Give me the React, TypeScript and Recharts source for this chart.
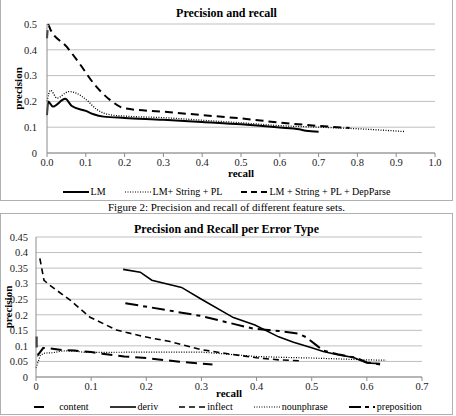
import React from 'react';
import { LineChart, Line, XAxis, YAxis, CartesianGrid, Legend } from 'recharts';

// ---------- Chart 1: Precision and recall ----------
const lmRecall = [0, 0.003, 0.015, 0.047, 0.064, 0.1, 0.12, 0.146, 0.2, 0.3, 0.4, 0.5, 0.6, 0.65, 0.667, 0.7];
const lmPrecision = [0.147, 0.2, 0.18, 0.21, 0.182, 0.163, 0.15, 0.141, 0.136, 0.129, 0.12, 0.111, 0.099, 0.092, 0.086, 0.082];

const plRecall = [0, 0.009, 0.026, 0.056, 0.077, 0.1, 0.129, 0.163, 0.2, 0.3, 0.4, 0.5, 0.6, 0.7, 0.8, 0.923];
const plPrecision = [0.2, 0.243, 0.213, 0.238, 0.231, 0.208, 0.168, 0.148, 0.143, 0.137, 0.127, 0.117, 0.106, 0.1, 0.094, 0.083];

const dpRecall = [0, 0.003, 0.009, 0.05, 0.086, 0.12, 0.163, 0.2, 0.3, 0.4, 0.5, 0.6, 0.7, 0.78];
const dpPrecision = [0.445, 0.497, 0.478, 0.413, 0.342, 0.27, 0.205, 0.173, 0.16, 0.147, 0.134, 0.118, 0.105, 0.097];

const chart1Names = ['LM', 'LM+ String + PL', 'LM + String + PL + DepParse'];
const chart1XTicks = [0, 0.1, 0.2, 0.3, 0.4, 0.5, 0.6, 0.7, 0.8, 0.9, 1.0];
const chart1YTicks = [0, 0.1, 0.2, 0.3, 0.4, 0.5];

// ---------- Chart 2: Precision and Recall per Error Type ----------
const contentRecall = [0.001, 0.001, 0.004, 0.013, 0.02, 0.05, 0.07, 0.1, 0.12, 0.16, 0.2, 0.26, 0.32];
const contentPrecision = [0.13, 0.098, 0.072, 0.093, 0.093, 0.086, 0.085, 0.08, 0.075, 0.066, 0.061, 0.049, 0.04];

const derivRecall = [0.158, 0.189, 0.21, 0.264, 0.3, 0.358, 0.397, 0.44, 0.467, 0.5, 0.521, 0.549, 0.576, 0.6, 0.624];
const derivPrecision = [0.346, 0.337, 0.311, 0.288, 0.25, 0.191, 0.167, 0.129, 0.112, 0.094, 0.082, 0.071, 0.063, 0.045, 0.043];

const inflectRecall = [0.007, 0.0145, 0.025, 0.062, 0.098, 0.146, 0.195, 0.243, 0.3, 0.35, 0.4, 0.44, 0.48];
const inflectPrecision = [0.381, 0.311, 0.295, 0.247, 0.192, 0.151, 0.13, 0.114, 0.088, 0.074, 0.062, 0.055, 0.052];

const nounRecall = [0, 0.008, 0.016, 0.03, 0.05, 0.07, 0.09, 0.2, 0.3, 0.35, 0.4, 0.45, 0.5, 0.55, 0.6, 0.635];
const nounPrecision = [0.029, 0.07, 0.077, 0.078, 0.084, 0.083, 0.079, 0.08, 0.08, 0.073, 0.066, 0.063, 0.061, 0.058, 0.055, 0.054];

const prepRecall = [0.162, 0.207, 0.3, 0.36, 0.395, 0.44, 0.475, 0.49, 0.51, 0.52, 0.55, 0.58, 0.6, 0.625, 0.625];
const prepPrecision = [0.237, 0.224, 0.196, 0.17, 0.155, 0.148, 0.14, 0.128, 0.1, 0.085, 0.072, 0.062, 0.047, 0.04, 0.032];

const chart2Names = ['content', 'deriv', 'inflect', 'nounphrase', 'preposition'];
const chart2XTicks = [0, 0.1, 0.2, 0.3, 0.4, 0.5, 0.6, 0.7];
const chart2YTicks = [0, 0.05, 0.1, 0.15, 0.2, 0.25, 0.3, 0.35, 0.4, 0.45];

const zip = (xs: number[], ys: number[]) => xs.map((x, i) => ({ x, y: ys[i] }));

const FONT = '"Liberation Serif", "Times New Roman", serif';
const GRID = '#bfbfbf';
const AXIS = '#8c8c8c';
const tickStyle = { fontSize: 10.5, fill: '#1a1a1a', fontFamily: FONT };

const YLabel = (props: any) => {
  const vb = props.viewBox || { x: 0, y: 0, width: 0, height: 0 };
  const cx = vb.x + (props.dxPos ?? 10);
  const cy = vb.y + vb.height / 2;
  return (
    <text x={cx} y={cy} transform={`rotate(-90, ${cx}, ${cy})`} textAnchor="middle" dominantBaseline="central"
      style={{ fontFamily: FONT, fontSize: 11, fontWeight: 'bold', fill: '#000' }}>
      precision
    </text>
  );
};

const XLabel = (props: any) => {
  const vb = props.viewBox || { x: 0, y: 0, width: 0, height: 0 };
  const cx = vb.x + vb.width / 2;
  const cy = vb.y + (props.dyPos ?? 20);
  return (
    <text x={cx} y={cy} textAnchor="middle" dominantBaseline="central"
      style={{ fontFamily: FONT, fontSize: 11, fontWeight: 'bold', fill: '#000' }}>
      recall
    </text>
  );
};

type LegItem = { name: string; w: number; dash?: string; sample?: [number, number] };

const makeLegend = (items: LegItem[], height: number, gap: number) => () => (
  <div style={{ display: 'flex', justifyContent: 'center', alignItems: 'center', height, gap, fontFamily: FONT, fontSize: 10, color: '#000' }}>
    {items.map((it) => (
      <div key={it.name} style={{ display: 'flex', alignItems: 'center' }}>
        <svg width={26} height={8} style={{ display: 'block' }}>
          <line x1={it.sample ? it.sample[0] : 0} y1={4} x2={it.sample ? it.sample[1] : 26} y2={4}
            stroke="#000" strokeWidth={it.w} strokeDasharray={it.dash} />
        </svg>
        <span style={{ marginLeft: 2, lineHeight: '12px', whiteSpace: 'nowrap' }}>{it.name}</span>
      </div>
    ))}
  </div>
);

const legend1 = makeLegend([
  { name: chart1Names[0], w: 2 },
  { name: chart1Names[1], w: 1.2, dash: '1 1.5' },
  { name: chart1Names[2], w: 2, dash: '6 4' },
], 18, 19);

const legend2 = makeLegend([
  { name: chart2Names[0], w: 2, sample: [3, 13] },
  { name: chart2Names[1], w: 1.6 },
  { name: chart2Names[2], w: 1.6, dash: '6 4' },
  { name: chart2Names[3], w: 1.2, dash: '1 1.5' },
  { name: chart2Names[4], w: 2, dash: '12 4 4 4' },
], 16, 21);

export default function App() {
  return (
    <div style={{ position: 'absolute', left: 0, top: 0, width: 456, height: 416, background: '#fff', fontFamily: FONT, overflow: 'hidden' }}>
      {/* Chart 1 */}
      <div style={{ position: 'absolute', left: 0, top: 0, width: 453, height: 201 }}>
        <LineChart width={453} height={201} margin={{ top: 24, right: 18, bottom: 0, left: 0 }}>
          <CartesianGrid vertical={false} stroke={GRID} />
          <XAxis type="number" dataKey="x" domain={[0, 1]} ticks={chart1XTicks} interval={0}
            tickFormatter={(v: number) => v.toFixed(1)} tick={tickStyle} stroke={AXIS} tickSize={4} height={30}
            allowDuplicatedCategory={false} label={<XLabel dyPos={20} />} />
          <YAxis type="number" domain={[0, 0.5]} ticks={chart1YTicks} interval={0} tick={tickStyle}
            tickLine={false} stroke={AXIS} tickSize={8} tickMargin={2} width={47} label={<YLabel dxPos={18} />} />
          <Legend verticalAlign="bottom" content={legend1} wrapperStyle={{ left: 0, width: 453 }} />
          <Line data={zip(lmRecall, lmPrecision)} dataKey="y" name={chart1Names[0]} type="monotone" stroke="#000" strokeWidth={2} dot={false} isAnimationActive={false} />
          <Line data={zip(plRecall, plPrecision)} dataKey="y" name={chart1Names[1]} type="monotone" stroke="#000" strokeWidth={1.3} strokeDasharray="1 1.5" dot={false} isAnimationActive={false} />
          <Line data={zip(dpRecall, dpPrecision)} dataKey="y" name={chart1Names[2]} type="monotone" stroke="#000" strokeWidth={2} strokeDasharray="8 5" dot={false} isAnimationActive={false} />
        </LineChart>
        <div style={{ position: 'absolute', left: 0, top: 5, width: 453, textAlign: 'center', fontSize: 12, fontWeight: 'bold', lineHeight: '16px' }}>
          Precision and recall
        </div>
      </div>
      <div style={{ position: 'absolute', left: 0, top: -1, width: 451, height: 200, border: '1px solid #b0b0b0', pointerEvents: 'none' }} />

      {/* Caption */}
      <div style={{ position: 'absolute', left: 0, top: 200, width: 453, textAlign: 'center', fontSize: 11, lineHeight: '14px' }}>
        Figure 2: Precision and recall of different feature sets.
      </div>

      {/* Chart 2 */}
      <div style={{ position: 'absolute', left: 0, top: 213, width: 453, height: 202 }}>
        <LineChart width={453} height={202} margin={{ top: 24, right: 31, bottom: 0, left: 0 }}>
          <CartesianGrid vertical={false} stroke={GRID} />
          <XAxis type="number" dataKey="x" domain={[0, 0.7]} ticks={chart2XTicks} interval={0}
            tick={tickStyle} stroke={AXIS} tickSize={4} height={22}
            allowDuplicatedCategory={false} label={<XLabel dyPos={16} />} />
          <YAxis type="number" domain={[0, 0.45]} ticks={chart2YTicks} interval={0} tick={tickStyle}
            tickLine={false} stroke={AXIS} tickSize={6} tickMargin={2} width={36} label={<YLabel dxPos={8} />} />
          <Legend verticalAlign="bottom" content={legend2} wrapperStyle={{ left: 0, width: 453 }} />
          <Line data={zip(contentRecall, contentPrecision)} dataKey="y" name={chart2Names[0]} type="linear" stroke="#000" strokeWidth={2} strokeDasharray="11 6" dot={false} isAnimationActive={false} />
          <Line data={zip(derivRecall, derivPrecision)} dataKey="y" name={chart2Names[1]} type="linear" stroke="#000" strokeWidth={1.6} dot={false} isAnimationActive={false} />
          <Line data={zip(inflectRecall, inflectPrecision)} dataKey="y" name={chart2Names[2]} type="linear" stroke="#000" strokeWidth={1.6} strokeDasharray="6 4" dot={false} isAnimationActive={false} />
          <Line data={zip(nounRecall, nounPrecision)} dataKey="y" name={chart2Names[3]} type="linear" stroke="#000" strokeWidth={1.2} strokeDasharray="1 1.5" dot={false} isAnimationActive={false} />
          <Line data={zip(prepRecall, prepPrecision)} dataKey="y" name={chart2Names[4]} type="linear" stroke="#000" strokeWidth={2} strokeDasharray="13 5 4 5" dot={false} isAnimationActive={false} />
        </LineChart>
        <div style={{ position: 'absolute', left: 0, top: 8, width: 453, textAlign: 'center', fontSize: 12, fontWeight: 'bold', lineHeight: '16px' }}>
          Precision and Recall per Error Type
        </div>
      </div>
      <div style={{ position: 'absolute', left: 0, top: 213, width: 451, height: 200, border: '1px solid #b0b0b0', pointerEvents: 'none' }} />
    </div>
  );
}
